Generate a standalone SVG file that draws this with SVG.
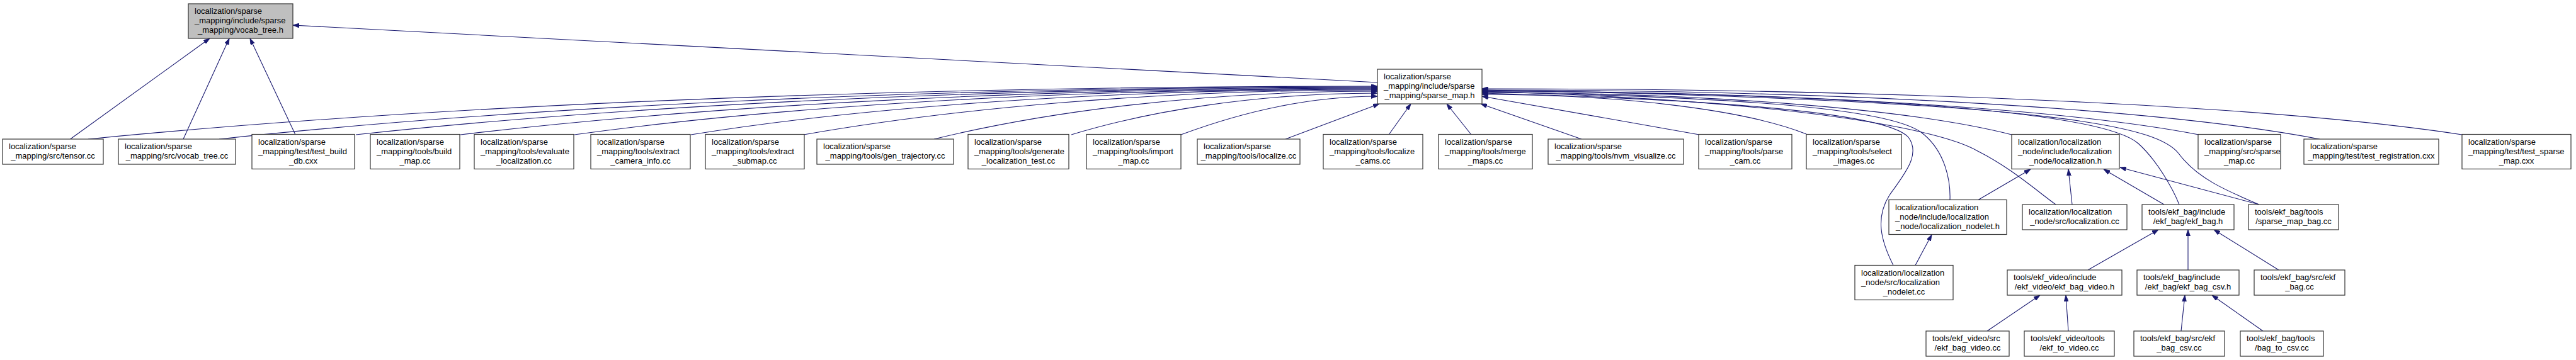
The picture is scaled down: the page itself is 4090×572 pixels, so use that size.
<svg xmlns="http://www.w3.org/2000/svg" width="4090" height="572" viewBox="0 0 4090 572">
<style>
.n rect{fill:#fff;stroke:#333;stroke-width:1.2}
.root rect{fill:#bfbfbf}
text{font-family:"Liberation Sans",Arial,sans-serif;font-size:13px;fill:#000}
.c{text-anchor:middle}
#edges path{fill:none;stroke:#191970;stroke-width:1.1;marker-end:url(#ah)}
</style>
<defs>
<marker id="ah" viewBox="0 0 10 7" refX="10" refY="3.5" markerWidth="10" markerHeight="7" markerUnits="userSpaceOnUse" orient="auto">
<path d="M0,0 L10,3.5 L0,7 z" fill="#191970" stroke="#191970" stroke-width="0.8"/>
</marker>
</defs>
<rect width="4090" height="572" fill="#fff"/>
<g id="edges">
<path d="M111.6,221 L333,61"/>
<path d="M291,221 L364,61"/>
<path d="M469,214 L397,61"/>
<path d="M2187,131 L465,40"/>
<path d="M140,221 C652,170.6 1368,137 2187,137"/>
<path d="M348,221 C808,171.5 1451,138 2187,138"/>
<path d="M565,214 C971,170 1538,139 2187,139"/>
<path d="M731,214 C1095,171 1605,140 2187,140"/>
<path d="M912,214 C1231,170 1677,141 2187,141"/>
<path d="M1097,214 C1370,170 1751,142 2187,142"/>
<path d="M1276,214 C1504,174 1823,143 2187,143"/>
<path d="M1483,221 C1659,178 1905,145 2187,145"/>
<path d="M1701,214 C1822,177 1993,148 2187,148"/>
<path d="M1875,214 C1953,185 2062,153 2187,153"/>
<path d="M2041,221 L2190,165"/>
<path d="M2205,214 L2240,165"/>
<path d="M2336,214 L2297,165"/>
<path d="M2511,221 L2351,165"/>
<path d="M2698,214 L2353,153"/>
<path d="M2868,213 C2765,172 2559,150 2353,150"/>
<path d="M3194,214 C3026,171 2689,147 2353,147"/>
<path d="M3491,214 C3263,170 2808,145 2353,145"/>
<path d="M3683,221 C3417,170 2885,143 2353,143"/>
<path d="M3909,214 C3598,166 2975,141 2353,141"/>
<path d="M3006,421.5 C2985,380 2978,345 3000,310 C3025,275 3050,245 3030,218 C3000,185 2800,160 2353,148"/>
<path d="M3096,317.5 C3097,290 3090,240 3050,210 C3000,175 2800,155 2353,146"/>
<path d="M3264,325 C3230,300 3190,265 3140,240 C3080,205 2850,160 2353,145"/>
<path d="M3460,325 C3450,300 3425,255 3395,228 C3340,180 3000,150 2353,144"/>
<path d="M3587,325 C3540,305 3490,285 3460,245 C3430,205 3300,160 2353,143"/>
<path d="M3141,317.5 L3224,269"/>
<path d="M3290,325 L3284,269"/>
<path d="M3436,325 L3340,269"/>
<path d="M3587,325 L3366,266"/>
<path d="M3041,421.5 L3067,373"/>
<path d="M3315,429 L3427,365"/>
<path d="M3474,429 L3474,365"/>
<path d="M3618,429 L3515,365"/>
<path d="M3155,526 L3239,469"/>
<path d="M3284,526 L3280,469"/>
<path d="M3463,526 L3469,469"/>
<path d="M3593,526 L3512,469"/>
</g>
<g id="vocab_tree_h" class="n root"><rect x="299" y="6" width="166" height="55"/><text x="309" y="22">localization/sparse</text><text x="309" y="37">_mapping/include/sparse</text><text class="c" x="382" y="52">_mapping/vocab_tree.h</text></g>
<g id="sparse_map_h" class="n"><rect x="2187" y="110" width="166" height="55"/><text x="2197" y="126">localization/sparse</text><text x="2197" y="141">_mapping/include/sparse</text><text class="c" x="2270" y="156">_mapping/sparse_map.h</text></g>
<g id="tensor_cc" class="n"><rect x="4" y="221" width="160" height="40"/><text x="14" y="237">localization/sparse</text><text class="c" x="84" y="252">_mapping/src/tensor.cc</text></g>
<g id="vocab_tree_cc" class="n"><rect x="188" y="221" width="186" height="40"/><text x="198" y="237">localization/sparse</text><text class="c" x="281" y="252">_mapping/src/vocab_tree.cc</text></g>
<g id="test_build_db" class="n"><rect x="400" y="213.5" width="163" height="55"/><text x="410" y="229.5">localization/sparse</text><text x="410" y="244.5">_mapping/test/test_build</text><text class="c" x="481.5" y="259.5">_db.cxx</text></g>
<g id="build_map" class="n"><rect x="588" y="213.5" width="142" height="55"/><text x="598" y="229.5">localization/sparse</text><text x="598" y="244.5">_mapping/tools/build</text><text class="c" x="659" y="259.5">_map.cc</text></g>
<g id="evaluate_localization" class="n"><rect x="753" y="213.5" width="158" height="55"/><text x="763" y="229.5">localization/sparse</text><text x="763" y="244.5">_mapping/tools/evaluate</text><text class="c" x="832" y="259.5">_localization.cc</text></g>
<g id="extract_camera_info" class="n"><rect x="938" y="213.5" width="158" height="55"/><text x="948" y="229.5">localization/sparse</text><text x="948" y="244.5">_mapping/tools/extract</text><text class="c" x="1017" y="259.5">_camera_info.cc</text></g>
<g id="extract_submap" class="n"><rect x="1120" y="213.5" width="157" height="55"/><text x="1130" y="229.5">localization/sparse</text><text x="1130" y="244.5">_mapping/tools/extract</text><text class="c" x="1198.5" y="259.5">_submap.cc</text></g>
<g id="gen_trajectory" class="n"><rect x="1297" y="221" width="217" height="40"/><text x="1307" y="237">localization/sparse</text><text class="c" x="1405.5" y="252">_mapping/tools/gen_trajectory.cc</text></g>
<g id="generate_localization_test" class="n"><rect x="1537" y="213.5" width="160" height="55"/><text x="1547" y="229.5">localization/sparse</text><text x="1547" y="244.5">_mapping/tools/generate</text><text class="c" x="1617" y="259.5">_localization_test.cc</text></g>
<g id="import_map" class="n"><rect x="1725" y="213.5" width="150" height="55"/><text x="1735" y="229.5">localization/sparse</text><text x="1735" y="244.5">_mapping/tools/import</text><text class="c" x="1800" y="259.5">_map.cc</text></g>
<g id="localize_cc" class="n"><rect x="1901" y="221" width="163" height="40"/><text x="1911" y="237">localization/sparse</text><text class="c" x="1982.5" y="252">_mapping/tools/localize.cc</text></g>
<g id="localize_cams" class="n"><rect x="2101" y="213.5" width="158" height="55"/><text x="2111" y="229.5">localization/sparse</text><text x="2111" y="244.5">_mapping/tools/localize</text><text class="c" x="2180" y="259.5">_cams.cc</text></g>
<g id="merge_maps" class="n"><rect x="2284" y="213.5" width="149" height="55"/><text x="2294" y="229.5">localization/sparse</text><text x="2294" y="244.5">_mapping/tools/merge</text><text class="c" x="2358.5" y="259.5">_maps.cc</text></g>
<g id="nvm_visualize" class="n"><rect x="2458" y="221" width="215" height="40"/><text x="2468" y="237">localization/sparse</text><text class="c" x="2565.5" y="252">_mapping/tools/nvm_visualize.cc</text></g>
<g id="parse_cam" class="n"><rect x="2697" y="213.5" width="148" height="55"/><text x="2707" y="229.5">localization/sparse</text><text x="2707" y="244.5">_mapping/tools/parse</text><text class="c" x="2771" y="259.5">_cam.cc</text></g>
<g id="select_images" class="n"><rect x="2868" y="213.5" width="151" height="55"/><text x="2878" y="229.5">localization/sparse</text><text x="2878" y="244.5">_mapping/tools/select</text><text class="c" x="2943.5" y="259.5">_images.cc</text></g>
<g id="localization_h" class="n"><rect x="3194" y="213.5" width="171" height="55"/><text x="3204" y="229.5">localization/localization</text><text x="3204" y="244.5">_node/include/localization</text><text class="c" x="3279.5" y="259.5">_node/localization.h</text></g>
<g id="sparse_map_cc" class="n"><rect x="3490" y="213.5" width="131" height="55"/><text x="3500" y="229.5">localization/sparse</text><text x="3500" y="244.5">_mapping/src/sparse</text><text class="c" x="3555.5" y="259.5">_map.cc</text></g>
<g id="test_registration" class="n"><rect x="3658" y="221" width="214" height="40"/><text x="3668" y="237">localization/sparse</text><text class="c" x="3765" y="252">_mapping/test/test_registration.cxx</text></g>
<g id="test_sparse_map" class="n"><rect x="3909" y="213.5" width="173" height="55"/><text x="3919" y="229.5">localization/sparse</text><text x="3919" y="244.5">_mapping/test/test_sparse</text><text class="c" x="3995.5" y="259.5">_map.cxx</text></g>
<g id="localization_nodelet_h" class="n"><rect x="2999" y="317.5" width="187" height="55"/><text x="3009" y="333.5">localization/localization</text><text x="3009" y="348.5">_node/include/localization</text><text class="c" x="3092.5" y="363.5">_node/localization_nodelet.h</text></g>
<g id="localization_cc" class="n"><rect x="3211" y="325" width="166" height="40"/><text x="3221" y="341">localization/localization</text><text class="c" x="3294" y="356">_node/src/localization.cc</text></g>
<g id="ekf_bag_h" class="n"><rect x="3401" y="325" width="146" height="40"/><text x="3411" y="341">tools/ekf_bag/include</text><text class="c" x="3474" y="356">/ekf_bag/ekf_bag.h</text></g>
<g id="sparse_map_bag" class="n"><rect x="3570" y="325" width="143" height="40"/><text x="3580" y="341">tools/ekf_bag/tools</text><text class="c" x="3641.5" y="356">/sparse_map_bag.cc</text></g>
<g id="localization_nodelet_cc" class="n"><rect x="2945" y="421.5" width="156" height="55"/><text x="2955" y="437.5">localization/localization</text><text x="2955" y="452.5">_node/src/localization</text><text class="c" x="3023" y="467.5">_nodelet.cc</text></g>
<g id="ekf_bag_video_h" class="n"><rect x="3187" y="429" width="182" height="40"/><text x="3197" y="445">tools/ekf_video/include</text><text class="c" x="3278" y="460">/ekf_video/ekf_bag_video.h</text></g>
<g id="ekf_bag_csv_h" class="n"><rect x="3393" y="429" width="162" height="40"/><text x="3403" y="445">tools/ekf_bag/include</text><text class="c" x="3474" y="460">/ekf_bag/ekf_bag_csv.h</text></g>
<g id="ekf_bag_cc" class="n"><rect x="3579" y="429" width="144" height="40"/><text x="3589" y="445">tools/ekf_bag/src/ekf</text><text class="c" x="3651" y="460">_bag.cc</text></g>
<g id="ekf_bag_video_cc" class="n"><rect x="3058" y="526" width="132" height="40"/><text x="3068" y="542">tools/ekf_video/src</text><text class="c" x="3124" y="557">/ekf_bag_video.cc</text></g>
<g id="ekf_to_video" class="n"><rect x="3214" y="526" width="143" height="40"/><text x="3224" y="542">tools/ekf_video/tools</text><text class="c" x="3285.5" y="557">/ekf_to_video.cc</text></g>
<g id="ekf_bag_csv_cc" class="n"><rect x="3388" y="526" width="144" height="40"/><text x="3398" y="542">tools/ekf_bag/src/ekf</text><text class="c" x="3460" y="557">_bag_csv.cc</text></g>
<g id="bag_to_csv" class="n"><rect x="3557" y="526" width="132" height="40"/><text x="3567" y="542">tools/ekf_bag/tools</text><text class="c" x="3623" y="557">/bag_to_csv.cc</text></g>
</svg>
